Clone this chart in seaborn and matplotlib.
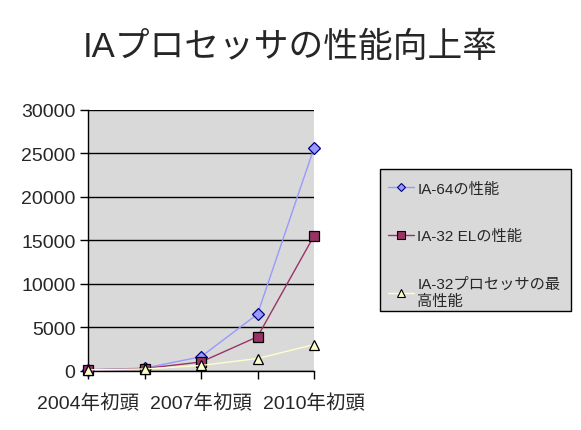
import matplotlib
matplotlib.use("Agg")
import matplotlib.pyplot as plt
import seaborn as sns
import pandas as pd
from matplotlib.lines import Line2D
from matplotlib.patches import Rectangle

categories = ["2004年初頭", "", "2007年初頭", "", "2010年初頭"]
ia64 = [100, 300, 1600, 6500, 25600]
ia32el = [100, 250, 1000, 3900, 15500]
ia32max = [100, 200, 600, 1400, 3000]
series_names = ["IA-64の性能", "IA-32 ELの性能", "IA-32プロセッサの最\n高性能"]
yticks = [0, 5000, 10000, 15000, 20000, 25000, 30000]

sns.set_theme(style="white")
plt.rcParams['font.family'] = ['Liberation Sans', 'Noto Sans CJK JP', 'DejaVu Sans']

W, H = 581, 431
fig = plt.figure(figsize=(W/100, H/100), dpi=100)
ax = fig.add_axes([88/W, 1-371.7/H, (314-88)/W, (371.7-110.7)/H])
ax.set_facecolor("#d9d9d9")

x = list(range(len(categories)))
styles = [
    (ia64, "#9999ff", "D", "#000080", 6),
    (ia32el, "#993366", "s", "#000000", 7),
    (ia32max, "#ffffcc", "^", "#000000", 7.5),
]
handles = []
for (vals, col, mk, ec, ms), name in zip(styles, series_names):
    df = pd.DataFrame({"x": x, "y": vals})
    sns.lineplot(data=df, x="x", y="y", ax=ax, color=col, linewidth=1,
                 marker=mk, markersize=ms, markerfacecolor=col,
                 markeredgecolor=ec, markeredgewidth=0.9, zorder=3,
                 clip_on=False)
    handles.append(Line2D([], [], color=col, lw=1, marker=mk, markersize=ms-1.5,
                          markerfacecolor=col, markeredgecolor=ec, markeredgewidth=0.8))

ax.set_xlim(0, 4)
ax.set_ylim(0, 30000)
ax.set_xticks(x)
ax.set_xticklabels(categories, fontsize=14)
ax.set_yticks(yticks)
ax.set_yticklabels([str(v) for v in yticks], fontsize=14)
ax.set_xlabel("")
ax.set_ylabel("")
ax.yaxis.grid(True, color="black", linewidth=1)
ax.set_axisbelow(True)
for s in ["top", "right"]:
    ax.spines[s].set_visible(False)
for s in ["left", "bottom"]:
    ax.spines[s].set_color("black")
    ax.spines[s].set_linewidth(1)
ax.tick_params(axis="both", which="major", length=6, width=1, color="black",
               direction="out", left=True, bottom=True, pad=3)
ax.tick_params(axis="x", pad=10)

fig.text(290/W, 1-47/H, "IAプロセッサの性能向上率", fontsize=25,
         ha="center", va="center")

# legend frame
fig.patches.append(Rectangle((380/W, 1-312/H), (571-380)/W, (312-170)/H,
                             transform=fig.transFigure, facecolor="#d9d9d9",
                             edgecolor="black", linewidth=1, zorder=0))

leg = fig.legend(handles, series_names, loc="upper left",
                 bbox_to_anchor=(380/W, 1-175/H), fontsize=11,
                 frameon=False, handlelength=1.7,
                 labelspacing=2.2, borderpad=0.5, handletextpad=0.25,
                 borderaxespad=0)
for t in leg.get_texts():
    t.set_linespacing(1.25)

fig.savefig("out.png", dpi=100)
